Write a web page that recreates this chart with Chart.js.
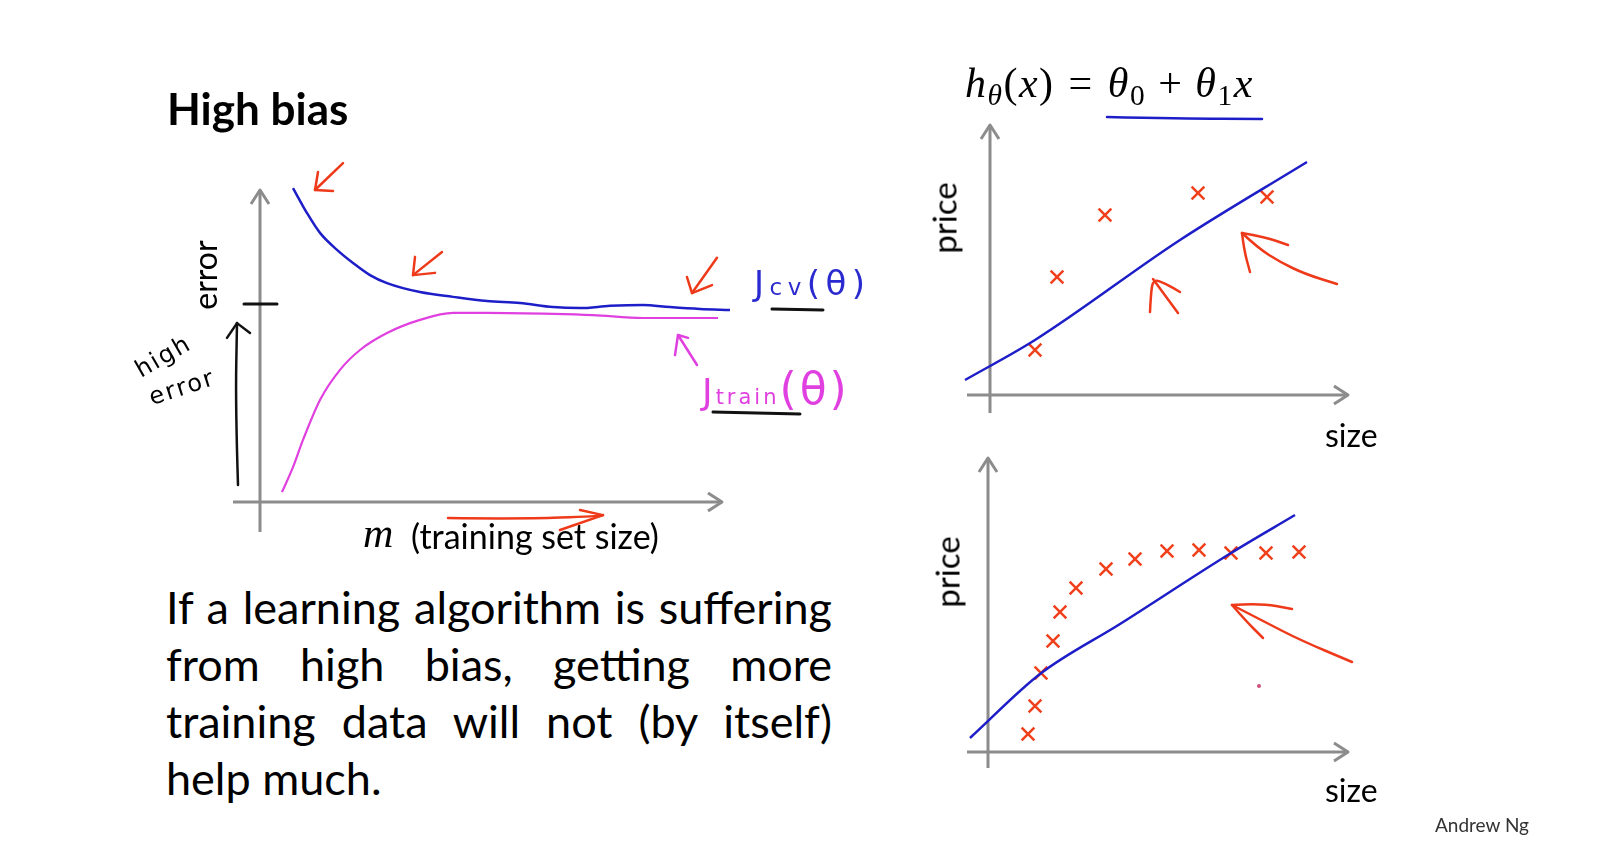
<!DOCTYPE html>
<html>
<head>
<meta charset="utf-8">
<script src="https://cdn.jsdelivr.net/npm/chart.js@4.4.1/dist/chart.umd.min.js"></script>
<style>
  html, body { margin: 0; padding: 0; background: #fff; }
  #slide { position: relative; width: 1624px; height: 852px; overflow: hidden;
           font-family: Lato, "Open Sans", sans-serif; color: #000; }
  canvas { position: absolute; }
  .abs { position: absolute; white-space: nowrap; line-height: 1; }
  .rot { transform: translate(-50%, -50%) rotate(-90deg); }
  .jl { text-align: justify; text-align-last: justify; }
  .hand { font-family: "DejaVu Sans", sans-serif; }
  .math { font-family: "Liberation Serif", serif; letter-spacing: 1.5px; }
  .math sub { font-size: 0.7em; vertical-align: -0.28em; line-height: 0; }
</style>
</head>
<body>
<div id="slide">
  <canvas id="curves" width="800" height="430" style="left:100px;top:130px"></canvas>
  <canvas id="fitTop" width="480" height="380" style="left:900px;top:90px"></canvas>
  <canvas id="fitBottom" width="480" height="350" style="left:900px;top:440px"></canvas>

  <div class="abs" style="left:167px;top:86px;font-size:44px;font-weight:700">High bias</div>

  <!-- learning curve labels -->
  <div class="abs rot" style="left:205px;top:275px;font-size:32px">error</div>
  <div class="abs math" style="left:363px;top:512px;font-size:42px;font-style:italic">m</div>
  <div class="abs" style="left:411px;top:519px;font-size:34px">(training set size)</div>
  <div class="abs hand" style="left:754px;top:266px;font-size:34px;color:#2a2ad0;letter-spacing:5.5px">J<span style="font-size:23px">cv</span>(θ)</div>
  <div class="abs hand" style="left:702px;top:367px;font-size:36px;color:#e040e0;letter-spacing:3px">J<span style="font-size:21px">train</span><span style="font-size:44px">(θ)</span></div>
  <div class="abs hand" style="left:163px;top:356px;font-size:24px;letter-spacing:2px;transform:translate(-50%,-50%) rotate(-30deg)">high</div>
  <div class="abs hand" style="left:182px;top:387px;font-size:24px;letter-spacing:2px;transform:translate(-50%,-50%) rotate(-18deg)">error</div>

  <!-- hypothesis and right-hand labels -->
  <div class="abs math" style="left:965px;top:62px;font-size:42px">
    <i>h</i><sub><i>θ</i></sub>(<i>x</i>)<span style="margin:0 14px">=</span><i>θ</i><sub>0</sub><span style="margin:0 12px">+</span><i>θ</i><sub>1</sub><i>x</i>
  </div>
  <div class="abs rot" style="left:944px;top:218px;font-size:33px">price</div>
  <div class="abs" style="left:1325px;top:419px;font-size:32px">size</div>
  <div class="abs rot" style="left:947px;top:572px;font-size:33px">price</div>
  <div class="abs" style="left:1325px;top:774px;font-size:32px">size</div>

  <div style="position:absolute;left:166px;top:579px;width:666px;font-size:45px;line-height:57px">
    <div class="jl">If a learning algorithm is suffering</div>
    <div class="jl">from high bias, getting more</div>
    <div class="jl">training data will not (by itself)</div>
    <div>help much.</div>
  </div>

  <div class="abs" style="left:1435px;top:815px;font-size:19px;color:#333">Andrew Ng</div>
</div>

<script>
// learning curves (m = training set size, error)
const cvM      = [6.6, 9.4, 12, 15.4, 18.6, 22, 25.4, 32, 38.6, 45.4, 52, 58.6, 64, 70, 76.6, 82, 88, 94];
const cvErr    = [9.81, 9.03, 8.41, 7.88, 7.47, 7.09, 6.84, 6.56, 6.41, 6.28, 6.22, 6.09, 6.06, 6.13, 6.16, 6.09, 6.03, 6.0];
const trainM   = [4.4, 6.6, 8.6, 12, 16, 20, 25.4, 32, 38.6, 45.4, 58.6, 66.6, 76.6, 91.6];
const trainErr = [0.31, 1.09, 1.94, 3.19, 4.13, 4.75, 5.28, 5.69, 5.91, 5.91, 5.88, 5.84, 5.75, 5.75];

// top plot: few examples + straight-line fit
const sizeTop      = [11.25, 16.75, 28.75, 52, 69.25];
const priceTop     = [11.25, 29.5, 45, 50.5, 49.5];
const fitSizeTop   = [-6.25, 11.25, 47.5, 79.25];
const fitPriceTop  = [3.75, 13.75, 38.75, 58.25];

// bottom plot: many examples + straight-line fit
const sizeBot      = [10, 11.75, 13.25, 16.25, 18, 22, 29.5, 36.75, 44.75, 52.75, 60.75, 69.5, 77.75];
const priceBot     = [4.5, 11.5, 19.75, 27.75, 35, 41, 45.75, 48.25, 50.25, 50.5, 49.75, 49.75, 50];
const fitSizeBot   = [-4.5, 13, 33, 60.75, 76.75];
const fitPriceBot  = [3.5, 19.5, 32, 49.75, 59.25];

const BLUE = '#1e1ec8', MAGENTA = '#e040e0', RED = '#f0401c', INK = '#ee3a1a', AXIS = '#8c8c8c';

const zip = (xs, ys) => xs.map((v, i) => ({ x: v, y: ys[i] }));

function path(ctx, pts, smooth) {
    ctx.beginPath();
    ctx.moveTo(pts[0][0], pts[0][1]);
    if (!smooth || pts.length < 3) {
        pts.slice(1).forEach(p => ctx.lineTo(p[0], p[1]));
    } else {
        for (let i = 1; i < pts.length - 1; i++) {
            const mx = (pts[i][0] + pts[i + 1][0]) / 2, my = (pts[i][1] + pts[i + 1][1]) / 2;
            ctx.quadraticCurveTo(pts[i][0], pts[i][1], mx, my);
        }
        const l = pts[pts.length - 1];
        ctx.lineTo(l[0], l[1]);
    }
    ctx.stroke();
}

// axes with open arrow heads + hand-drawn marks, all placed through the chart scales
const sketch = {
    id: 'sketch',
    beforeDatasetsDraw(chart, args, opts) {
        if (!opts || !opts.axes) return;
        const { ctx, scales: { x, y } } = chart;
        const a = opts.axes;
        const x0 = x.getPixelForValue(0), y0 = y.getPixelForValue(0);
        const xs = x.getPixelForValue(a.xFrom), xe = x.getPixelForValue(a.xTo);
        const ys = y.getPixelForValue(a.yFrom), ye = y.getPixelForValue(a.yTo);
        ctx.save();
        ctx.strokeStyle = AXIS;
        ctx.lineWidth = 3;
        ctx.lineJoin = 'round';
        path(ctx, [[xs, y0], [xe, y0]]);
        path(ctx, [[x0, ys], [x0, ye]]);
        path(ctx, [[xe - 14, y0 - 9], [xe, y0], [xe - 14, y0 + 9]]);
        path(ctx, [[x0 - 9, ye + 14], [x0, ye], [x0 + 9, ye + 14]]);
        ctx.restore();
    },
    afterDatasetsDraw(chart, args, opts) {
        if (!opts || !opts.strokes) return;
        const { ctx, scales: { x, y } } = chart;
        ctx.save();
        ctx.lineCap = 'round';
        ctx.lineJoin = 'round';
        opts.strokes.forEach(s => {
            const pts = s.p.map(q => [x.getPixelForValue(q[0]), y.getPixelForValue(q[1])]);
            ctx.strokeStyle = s.c;
            ctx.fillStyle = s.c;
            ctx.lineWidth = s.w;
            if (s.dot) {
                ctx.beginPath();
                ctx.arc(pts[0][0], pts[0][1], s.w, 0, Math.PI * 2);
                ctx.fill();
            } else {
                path(ctx, pts, s.s);
            }
        });
        ctx.restore();
    }
};
Chart.register(sketch);

function options(pad, xr, yr, sk) {
    return {
        responsive: false,
        animation: false,
        devicePixelRatio: 1,
        layout: { padding: pad },
        scales: {
            x: { type: 'linear', min: xr[0], max: xr[1], display: false },
            y: { type: 'linear', min: yr[0], max: yr[1], display: false }
        },
        plugins: { legend: { display: false }, tooltip: { enabled: false }, sketch: sk }
    };
}

new Chart(document.getElementById('curves'), {
    type: 'line',
    data: {
        datasets: [
            { label: 'Jcv', data: zip(cvM, cvErr), borderColor: BLUE, borderWidth: 2.5,
              pointRadius: 0, cubicInterpolationMode: 'monotone' },
            { label: 'Jtrain', data: zip(trainM, trainErr), borderColor: MAGENTA, borderWidth: 2.2,
              pointRadius: 0, cubicInterpolationMode: 'monotone' }
        ]
    },
    options: options({ left: 130, right: 160, top: 20, bottom: 26 }, [-6, 96], [-1, 11], {
        axes: { xFrom: -5.4, xTo: 92.4, yFrom: -0.94, yTo: 9.75 },
        strokes: [
            { c: '#111', w: 3, p: [[-3.2, 6.19], [3.4, 6.19]] },
            { c: INK, w: 2.5, p: [[16.6, 10.59], [11, 9.75]] },
            { c: INK, w: 2.5, p: [[11.6, 10.31], [11, 9.75], [14.6, 9.72]] },
            { c: INK, w: 2.5, p: [[36.4, 7.81], [30.6, 7.09]] },
            { c: INK, w: 2.5, p: [[31, 7.66], [30.6, 7.09], [35, 7.16]] },
            { c: INK, w: 2.5, p: [[91.4, 7.63], [86.4, 6.53]] },
            { c: INK, w: 2.5, p: [[85.4, 7.03], [86.4, 6.53], [90.4, 6.78]] },
            { c: INK, w: 2.5, s: true, p: [[37.6, -0.5], [52, -0.53], [68, -0.44], [68.6, -0.41]] },
            { c: INK, w: 2.5, p: [[64, -0.25], [68.6, -0.41], [60, -0.875]] },
            { c: MAGENTA, w: 2.5, p: [[87.4, 4.28], [83.6, 5.22]] },
            { c: MAGENTA, w: 2.5, p: [[83, 4.59], [83.6, 5.22], [85.6, 5.13]] },
            { c: '#111', w: 2.5, s: true, p: [[-4.4, 0.53], [-4.9, 3], [-4.6, 5.59]] },
            { c: '#111', w: 2.5, p: [[-6.6, 5.13], [-4.6, 5.59], [-2, 5.28]] },
            { c: '#111', w: 3, p: [[102.4, 6.03], [112.6, 6.0]] },
            { c: '#111', w: 3, p: [[90.6, 2.81], [108, 2.75]] }
        ]
    })
});

function fitChart(id, pad, yr, sx, sy, fx, fy, sk) {
    return new Chart(document.getElementById(id), {
        type: 'scatter',
        data: {
            datasets: [
                { label: 'fit', data: zip(fx, fy), showLine: true, borderColor: BLUE, borderWidth: 2.5,
                  pointRadius: 0, cubicInterpolationMode: 'monotone' },
                { label: 'examples', data: zip(sx, sy), pointStyle: 'crossRot', pointRadius: 9,
                  borderColor: RED, borderWidth: 2.5 }
            ]
        },
        options: options(pad, [-10, 92], yr, sk)
    });
}

fitChart('fitTop', { left: 50, right: 22, top: 25, bottom: 55 }, [-5, 70],
    sizeTop, priceTop, fitSizeTop, fitPriceTop, {
        axes: { xFrom: -5.75, xTo: 89.5, yFrom: -4.5, yTo: 67.5 },
        strokes: [
            { c: BLUE, w: 2.5, s: true, p: [[29.25, 69.5], [48, 69.1], [68, 69]] },
            { c: INK, w: 2.5, p: [[47, 20.5], [40.75, 29]] },
            { c: INK, w: 2.5, s: true, p: [[40, 20.75], [40.2, 25], [40.75, 29], [44, 27.8], [47.5, 25.75]] },
            { c: INK, w: 2.5, s: true, p: [[63, 40.5], [67, 36.75], [72.5, 33.25], [78.75, 30.25], [86.75, 27.75]] },
            { c: INK, w: 2.5, s: true, p: [[63, 40.5], [68.75, 39.5], [74.5, 37.5]] },
            { c: INK, w: 2.5, s: true, p: [[63, 40.5], [63.5, 36.25], [65, 30.75]] }
        ]
    });

fitChart('fitBottom', { left: 48, right: 24, top: 12, bottom: 18 }, [-5, 75],
    sizeBot, priceBot, fitSizeBot, fitPriceBot, {
        axes: { xFrom: -5.25, xTo: 90, yFrom: -4, yTo: 73.5 },
        strokes: [
            { c: INK, w: 2.5, s: true, p: [[61, 36.75], [69.25, 32.5], [78, 28], [91, 22.5]] },
            { c: INK, w: 2.5, s: true, p: [[61, 36.75], [68, 37.25], [76, 35.75]] },
            { c: INK, w: 2.5, s: true, p: [[61, 36.75], [64.25, 33], [68.75, 28.5]] },
            { c: '#d0507a', w: 2, dot: true, p: [[67.75, 16.5]] }
        ]
    });
</script>
</body>
</html>
